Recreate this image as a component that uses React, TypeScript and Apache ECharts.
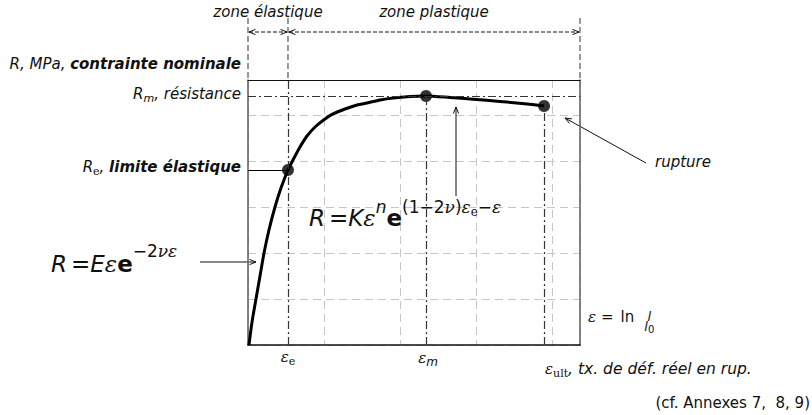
import { useEffect, useRef } from 'react';
import * as echarts from 'echarts';

// Tensile curve: true strain vs nominal stress, in grid units
const strain = [
  0.013, 0.053, 0.105, 0.158, 0.211, 0.276, 0.355, 0.434, 0.526,
  0.592, 0.684, 0.776, 0.882, 1.013, 1.118, 1.276, 1.434, 1.566, 1.737, 1.908, 2.132, 2.342,
  2.658, 2.961, 3.316, 3.605, 3.895,
];
const stress = [
  0, 0.5, 1.0, 1.5, 2.0, 2.5, 3.0, 3.413, 3.804,
  4.022, 4.304, 4.543, 4.739, 4.913, 5.022, 5.13, 5.217, 5.261, 5.326, 5.37, 5.402, 5.413,
  5.38, 5.341, 5.293, 5.25, 5.196,
];

// Characteristic points: elastic limit, tensile strength, rupture
const keyNames = ['Re', 'Rm', 'rupture'];
const keyStrain = [0.526, 2.342, 3.895];
const keyStress = [3.804, 5.413, 5.196];

const strainMax = 4.368;
const stressMax = 5.76;

const INK = '#111';
const SANS = '"DejaVu Sans", "Liberation Sans", sans-serif';
const SERIF = '"DejaVu Serif", "Liberation Serif", serif';

type Piece = {
  t: string;
  size: number;
  serif?: boolean;
  italic?: boolean;
  bold?: boolean;
  dy?: number;
  dx?: number;
};

let measureCtx: CanvasRenderingContext2D | null = null;
function fontOf(p: Piece) {
  return `${p.italic ? 'italic' : 'normal'} ${p.bold ? 'bold' : 'normal'} ${p.size}px ${p.serif ? SERIF : SANS}`;
}
function widthOf(p: Piece) {
  if (!measureCtx) measureCtx = document.createElement('canvas').getContext('2d');
  measureCtx!.font = fontOf(p);
  return measureCtx!.measureText(p.t).width;
}
function runWidth(pieces: Piece[]) {
  return pieces.reduce((a, p) => a + widthOf(p) + (p.dx || 0), 0);
}

// Lays pieces of text on a common baseline (sub/superscripts through dy)
function textRun(pieces: Piece[], x: number, baseline: number, anchor: 'left' | 'right' | 'center' = 'left') {
  const widths = pieces.map((p) => widthOf(p) + (p.dx || 0));
  const total = widths.reduce((a, b) => a + b, 0);
  let cx = anchor === 'left' ? x : anchor === 'right' ? x - total : x - total / 2;
  return pieces.map((p, i) => {
    const el = {
      type: 'text',
      silent: true,
      x: cx + (p.dx || 0),
      y: baseline + (p.dy || 0) - 0.345 * p.size,
      style: {
        text: p.t,
        fontSize: p.size,
        fontFamily: p.serif ? SERIF : SANS,
        fontStyle: p.italic ? 'italic' : 'normal',
        fontWeight: p.bold ? 'bold' : 'normal',
        fill: INK,
        align: 'left',
        verticalAlign: 'middle',
      },
    };
    cx += widths[i];
    return el;
  });
}

function seg(x1: number, y1: number, x2: number, y2: number, dash?: number[], color = INK, width = 1) {
  return {
    type: 'line',
    silent: true,
    shape: { x1, y1, x2, y2 },
    style: { stroke: color, lineWidth: width, lineDash: dash || null },
  };
}

function head(tx: number, ty: number, fx: number, fy: number, len = 7, spread = 0.38) {
  const a = Math.atan2(ty - fy, tx - fx);
  const p1 = [tx - len * Math.cos(a - spread), ty - len * Math.sin(a - spread)];
  const p2 = [tx - len * Math.cos(a + spread), ty - len * Math.sin(a + spread)];
  return {
    type: 'polyline',
    silent: true,
    shape: { points: [p1, [tx, ty], p2] },
    style: { stroke: INK, lineWidth: 1, fill: null },
  };
}

function arrow(fx: number, fy: number, tx: number, ty: number, dash?: number[], both = false) {
  const out: any[] = [seg(fx, fy, tx, ty, dash), head(tx, ty, fx, fy)];
  if (both) out.push(head(fx, fy, tx, ty));
  return out;
}

const dashDot = { color: '#333', width: 1.2, type: [8, 3, 2, 3] as any };

export default function App() {
  const ref = useRef<HTMLDivElement>(null);

  useEffect(() => {
    const chart = echarts.init(ref.current!, null, { renderer: 'svg' });
    const hidden = { axisTick: { show: false }, axisLabel: { show: false } };

    chart.setOption({
      animation: false,
      backgroundColor: '#fff',
      grid: { left: 248, top: 80, right: 232, bottom: 70 },
      xAxis: [
        {
          type: 'value', min: 0, max: strainMax, interval: 1, ...hidden,
          axisLine: { show: true, onZero: false, lineStyle: { color: '#111', width: 1.6 } },
          splitLine: { show: true, lineStyle: { color: '#c6c6c6', width: 1, type: [8, 5] } },
        },
        {
          type: 'value', position: 'top', min: 0, max: strainMax, ...hidden,
          axisLine: { show: true, onZero: false, lineStyle: { color: '#111', width: 1 } },
          splitLine: { show: false },
        },
      ],
      yAxis: [
        {
          type: 'value', min: 0, max: stressMax, interval: 1, ...hidden,
          axisLine: { show: true, onZero: false, lineStyle: { color: '#666', width: 1.6 } },
          splitLine: { show: true, lineStyle: { color: '#c6c6c6', width: 1, type: [8, 5] } },
        },
        {
          type: 'value', position: 'right', min: 0, max: stressMax, ...hidden,
          axisLine: { show: true, onZero: false, lineStyle: { color: '#666', width: 1.6 } },
          splitLine: { show: false },
        },
      ],
      series: [
        {
          type: 'line',
          z: 1,
          data: [],
          silent: true,
          markLine: {
            silent: true,
            symbol: ['none', 'none'],
            label: { show: false },
            lineStyle: dashDot,
            data: [
              [{ coord: [keyStrain[0], 0] }, { coord: [keyStrain[0], stressMax] }],
              [{ coord: [keyStrain[1], 0] }, { coord: [keyStrain[1], keyStress[1]] }],
              [{ coord: [keyStrain[2], 0] }, { coord: [keyStrain[2], keyStress[2]] }],
              [{ coord: [0, keyStress[1]] }, { coord: [strainMax, keyStress[1]] }],
              [
                { coord: [0, keyStress[0]], lineStyle: { type: 'solid', color: '#000', width: 1.2 } },
                { coord: [keyStrain[0], keyStress[0]] },
              ],
            ],
          },
        },
        {
          type: 'line',
          z: 3,
          data: strain.map((x, i) => [x, stress[i]]),
          smooth: 0.25,
          showSymbol: false,
          silent: true,
          lineStyle: { color: '#000', width: 3 },
        },
        {
          type: 'scatter',
          z: 4,
          silent: true,
          symbolSize: 12,
          itemStyle: { color: '#000' },
          data: keyStrain.map((x, i) => ({ name: keyNames[i], value: [x, keyStress[i]] })),
        },
      ],
    });

    const px = (x: number, y: number) => chart.convertToPixel({ seriesIndex: 1 }, [x, y]) as number[];
    const [x0, yBot] = px(0, 0);
    const [xEnd, yTop] = px(strainMax, stressMax);
    const pE = px(keyStrain[0], keyStress[0]);
    const pM = px(keyStrain[1], keyStress[1]);
    const pU = px(keyStrain[2], keyStress[2]);

    const S = 15;
    const els: any[] = [];

    // guides above the frame and zone arrows
    const extTop = 18;
    [x0, pE[0], xEnd].forEach((x) => els.push(seg(x, extTop, x, yTop, [6, 3], '#555', 1.2)));
    els.push(...arrow(x0 + 1, 32, pE[0] - 1, 32, [4, 2], true));
    els.push(...arrow(pE[0] + 1, 32, xEnd - 1, 32, [4, 2], true));
    els.push(...textRun([{ t: 'zone élastique', size: S, italic: true }], (x0 + pE[0]) / 2, 17, 'center'));
    els.push(...textRun([{ t: 'zone plastique', size: S, italic: true }], (pE[0] + xEnd) / 2, 17, 'center'));

    // stress axis captions
    const lx = x0 - 7;
    els.push(...textRun([
      { t: 'R, MPa, ', size: S, italic: true },
      { t: 'contrainte nominale', size: S, italic: true, bold: true },
    ], lx, yTop - 11, 'right'));
    els.push(...textRun([
      { t: 'R', size: S, italic: true },
      { t: 'm', size: 11, italic: true, dy: 3 },
      { t: ', résistance', size: S, italic: true },
    ], lx, pM[1] + 3, 'right'));
    els.push(...textRun([
      { t: 'R', size: S, italic: true },
      { t: 'e', size: 11, serif: true, dy: 3 },
      { t: ', ', size: S, italic: true },
      { t: 'limite élastique', size: S, italic: true, bold: true },
    ], lx, pE[1] + 2, 'right'));

    // strain axis captions
    els.push(...textRun([
      { t: 'ε', size: S, serif: true, italic: true },
      { t: 'e', size: 11, serif: true, dy: 3 },
    ], pE[0], yBot + 17, 'center'));
    els.push(...textRun([
      { t: 'ε', size: S, serif: true, italic: true },
      { t: 'm', size: 12, italic: true, dy: 3 },
    ], pM[0] + 2, yBot + 18, 'center'));
    els.push(...textRun([
      { t: 'ε', size: S, serif: true, italic: true },
      { t: 'ult', size: 11, serif: true, dy: 3 },
      { t: ', tx. de déf. réel en rup.', size: 15.5, italic: true },
    ], pU[0] + 1, yBot + 29, 'left'));

    // ε = ln l / l0
    const lnPieces: Piece[] = [
      { t: 'ε', size: S, serif: true, italic: true },
      { t: '=', size: S, dx: 5 },
      { t: 'ln', size: S, dx: 7 },
    ];
    const lnX = xEnd + 8;
    els.push(...textRun(lnPieces, lnX, 322, 'left'));
    const fracX = lnX + runWidth(lnPieces) + 15;
    els.push(...textRun([{ t: 'l', size: 13, italic: true }], fracX, 321, 'center'));
    els.push(...textRun([
      { t: 'l', size: 13, italic: true },
      { t: '0', size: 10, dy: 2 },
    ], fracX, 331, 'center'));

    // constitutive laws
    els.push(...textRun([
      { t: 'R', size: 23, italic: true },
      { t: '=', size: 23, dx: 4 },
      { t: 'E', size: 23, italic: true },
      { t: 'ε', size: 23, serif: true, italic: true },
      { t: 'e', size: 23, bold: true },
      { t: '−2', size: 17, dy: -15 },
      { t: 'νε', size: 17, serif: true, italic: true, dy: -15 },
    ], 51, 272, 'left'));
    els.push(...arrow(200, 262, 256, 262));

    els.push(...textRun([
      { t: 'R', size: 23, italic: true },
      { t: '=', size: 23, dx: 4 },
      { t: 'K', size: 23, italic: true },
      { t: 'ε', size: 23, serif: true, italic: true },
      { t: 'n', size: 17, italic: true, dy: -13 },
      { t: 'e', size: 23, bold: true },
      { t: '(1−2', size: 17, dy: -13 },
      { t: 'ν', size: 17, serif: true, italic: true, dy: -13 },
      { t: ')', size: 17, dy: -13 },
      { t: 'ε', size: 17, serif: true, italic: true, dy: -13 },
      { t: 'e', size: 12, serif: true, dy: -10 },
      { t: '−', size: 17, dy: -13 },
      { t: 'ε', size: 17, serif: true, italic: true, dy: -13 },
    ], 309, 226, 'left'));
    els.push(...arrow(456, 196, 456, 107));

    // rupture
    els.push(...textRun([{ t: 'rupture', size: S, italic: true }], 655, 167, 'left'));
    els.push(...arrow(646, 163, 565, 118));

    els.push(...textRun([{ t: '(cf. Annexes 7,  8, 9)', size: S }], 810, 408, 'right'));

    chart.setOption({ graphic: { elements: els } });

    return () => chart.dispose();
  }, []);

  return (
    <div
      ref={ref}
      style={{ position: 'fixed', left: 0, top: 0, width: 812, height: 415, background: '#fff' }}
    />
  );
}
